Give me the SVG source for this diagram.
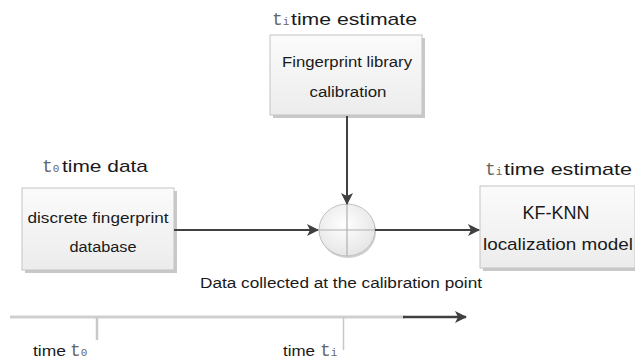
<svg xmlns="http://www.w3.org/2000/svg" width="635" height="362" viewBox="0 0 635 362">
<defs>
<linearGradient id="boxg" x1="0" y1="0" x2="0" y2="1">
<stop offset="0" stop-color="#fbfbfb"/>
<stop offset="1" stop-color="#ececec"/>
</linearGradient>
<radialGradient id="circg" cx="0.45" cy="0.4" r="0.6">
<stop offset="0" stop-color="#ffffff"/>
<stop offset="1" stop-color="#e6e6e6"/>
</radialGradient>
<marker id="arr" markerWidth="12" markerHeight="12" refX="11" refY="6" orient="auto" markerUnits="userSpaceOnUse">
<path d="M0,0 L12,6 L0,12 L3,6 Z" fill="#404040"/>
</marker>
</defs>
<style>
.shadow{fill:#c8c8c8;}
.box{fill:url(#boxg);stroke:#c4c4c4;stroke-width:1;}
.t{font-family:"Liberation Sans",Arial,sans-serif;fill:#1a1a1a;}
.m{font-family:"Liberation Mono","DejaVu Sans Mono",monospace;fill:#666666;}
.conn{stroke:#404040;stroke-width:2;fill:none;}
</style>

<g id="label-top">
<text class="m" x="272" y="25" font-size="18">t<tspan font-size="11">i</tspan></text>
<text class="t" x="291" y="25" font-size="17" textLength="126" lengthAdjust="spacingAndGlyphs">time estimate</text>
</g>
<g id="node-calibration">
<rect class="shadow" x="273" y="38" width="152" height="80"/>
<rect class="box" x="270" y="35" width="152" height="80"/>
<text class="t" x="347" y="67" font-size="14" text-anchor="middle" textLength="130" lengthAdjust="spacingAndGlyphs">Fingerprint library</text>
<text class="t" x="348" y="97" font-size="14" text-anchor="middle" textLength="77" lengthAdjust="spacingAndGlyphs">calibration</text>
</g>

<g id="label-t0">
<text class="m" x="42" y="172" font-size="18">t<tspan font-size="11">0</tspan></text>
<text class="t" x="62" y="172" font-size="17" textLength="86" lengthAdjust="spacingAndGlyphs">time data</text>
</g>
<g id="node-database">
<rect class="shadow" x="25" y="191" width="152" height="82"/>
<rect class="box" x="22" y="188" width="152" height="82"/>
<text class="t" x="98" y="223" font-size="14" text-anchor="middle" textLength="141" lengthAdjust="spacingAndGlyphs">discrete fingerprint</text>
<text class="t" x="103" y="252" font-size="14" text-anchor="middle" textLength="67" lengthAdjust="spacingAndGlyphs">database</text>
</g>

<g id="label-right">
<text class="m" x="485" y="175" font-size="18">t<tspan font-size="11">i</tspan></text>
<text class="t" x="504" y="175" font-size="17" textLength="128" lengthAdjust="spacingAndGlyphs">time estimate</text>
</g>
<g id="node-model">
<rect class="shadow" x="483" y="189" width="155" height="82"/>
<rect class="box" x="480" y="186" width="155" height="82"/>
<text class="t" x="556" y="219" font-size="18" text-anchor="middle" textLength="67" lengthAdjust="spacingAndGlyphs">KF-KNN</text>
<text class="t" x="558" y="250" font-size="17" text-anchor="middle" textLength="150" lengthAdjust="spacingAndGlyphs">localization model</text>
</g>

<g id="node-sum">
<ellipse cx="348" cy="232" rx="28" ry="26" fill="#d0d0d0"/>
<ellipse cx="347" cy="230" rx="28" ry="26" fill="url(#circg)" stroke="#c0c0c0" stroke-width="1"/>
<line x1="319" y1="230" x2="375" y2="230" stroke="#b0b0b0" stroke-width="1.2"/>
<line x1="347" y1="204" x2="347" y2="256" stroke="#b0b0b0" stroke-width="1.2"/>
</g>

<g id="connectors">
<line class="conn" x1="347" y1="116" x2="347" y2="204" marker-end="url(#arr)"/>
<line class="conn" x1="174" y1="230" x2="318" y2="230" marker-end="url(#arr)"/>
<line class="conn" x1="375" y1="230" x2="479" y2="230" marker-end="url(#arr)"/>
</g>

<text class="t" x="341" y="288" font-size="14" text-anchor="middle" textLength="282" lengthAdjust="spacingAndGlyphs">Data collected at the calibration point</text>

<g id="timeline">
<line x1="10" y1="317" x2="405" y2="317" stroke="#cfcfcf" stroke-width="3"/>
<line x1="403" y1="317" x2="466" y2="317" stroke="#404040" stroke-width="2.5" marker-end="url(#arr)"/>
<line x1="97" y1="317" x2="97" y2="340" stroke="#c8c8c8" stroke-width="2.5"/>
<line x1="343.5" y1="317" x2="343.5" y2="350" stroke="#c8c8c8" stroke-width="1.5"/>
<text class="t" x="33" y="356" font-size="14" textLength="33" lengthAdjust="spacingAndGlyphs">time</text>
<text class="m" x="70" y="356" font-size="18">t<tspan font-size="11">0</tspan></text>
<text class="t" x="283" y="356" font-size="14" textLength="32" lengthAdjust="spacingAndGlyphs">time</text>
<text class="m" x="320" y="356" font-size="18">t<tspan font-size="11">i</tspan></text>
</g>
</svg>
